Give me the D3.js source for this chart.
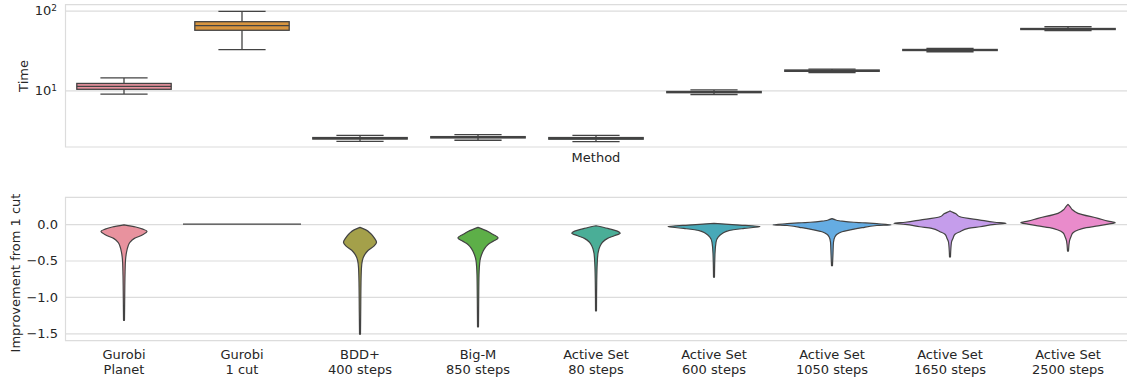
<!DOCTYPE html>
<html>
<head>
<meta charset="utf-8">
<script src="https://cdn.jsdelivr.net/npm/d3@7"></script>
<style>
  body { margin: 0; background: #fff; }
  text { font-family: "DejaVu Sans", sans-serif; fill: #262626; }
</style>
</head>
<body>
<div id="graf"></div>
<script>
// categories
const methods = [
  "Gurobi\nPlanet", "Gurobi\n1 cut", "BDD+\n400 steps", "Big-M\n850 steps",
  "Active Set\n80 steps", "Active Set\n600 steps", "Active Set\n1050 steps",
  "Active Set\n1650 steps", "Active Set\n2500 steps",
]
const colores = [
  "#e8929e", "#d8953f", "#a4a04a", "#5daf48", "#4aae97",
  "#48a9b8", "#65ace2", "#c59deb", "#e98bcb",
]

// top panel: time box stats
const timeLow  = [8.98, 32.4, 2.28, 2.36, 2.27, 8.86, 16.7, 30.5, 56.1]
const timeQ1   = [10.3, 56.8, 2.44, 2.52, 2.43, 9.33, 17.3, 31.6, 58.0]
const timeMed  = [11.2, 64.8, 2.50, 2.57, 2.49, 9.52, 17.6, 32.1, 58.9]
const timeQ3   = [12.2, 72.8, 2.55, 2.62, 2.55, 9.66, 18.0, 32.6, 59.8]
const timeHigh = [14.3, 98.3, 2.72, 2.78, 2.72, 10.1, 18.5, 33.7, 62.9]
const timeTicks = [10, 100]

// bottom panel: improvement density profiles [value, relative density 0-100]
// null = every value equal (drawn as a flat line)
const improvConst = [null, 0, null, null, null, null, null, null, null]
const improvProfiles = [
  [[-0.01,0],[-0.04,20],[-0.07,32],[-0.1,39],[-0.15,31],[-0.2,17],[-0.25,10],[-0.3,7],[-0.4,4],[-0.5,2.5],[-0.7,1.7],[-1.0,1.2],[-1.32,0.8]],
  null,
  [[-0.045,0],[-0.08,10],[-0.13,18],[-0.2,25],[-0.25,28],[-0.3,24],[-0.36,14],[-0.42,8],[-0.5,4],[-0.6,2.5],[-0.8,1.7],[-1.2,1.2],[-1.51,0.8]],
  [[-0.045,0],[-0.09,14],[-0.14,25],[-0.19,34],[-0.23,27],[-0.28,17],[-0.35,10],[-0.42,6],[-0.5,3.4],[-0.7,1.7],[-1.0,1.2],[-1.41,0.8]],
  [[-0.023,0],[-0.06,20],[-0.1,37],[-0.125,41],[-0.16,31],[-0.2,19],[-0.25,11],[-0.3,7],[-0.4,3.4],[-0.55,2],[-0.8,1.2],[-1.19,0.8]],
  [[0.01,0],[-0.01,37],[-0.035,78],[-0.06,51],[-0.09,25],[-0.13,14],[-0.18,7],[-0.25,3.4],[-0.4,1.7],[-0.73,0.8]],
  [[0.075,0],[0.06,5],[0.045,12],[0.04,17],[0.025,37],[0.018,51],[0.005,76],[-0.012,100],[-0.02,76],[-0.05,51],[-0.08,31],[-0.105,17],[-0.14,8.5],[-0.175,5],[-0.25,2.5],[-0.4,1.7],[-0.57,0.8]],
  [[0.18,0],[0.16,5],[0.14,10],[0.10,17],[0.055,51],[0.025,76],[0.01,95],[-0.005,76],[-0.037,51],[-0.06,31],[-0.105,17],[-0.14,8.5],[-0.197,5],[-0.25,2.5],[-0.45,0.8]],
  [[0.27,0],[0.24,3.4],[0.2,7],[0.147,17],[0.078,51],[0.04,68],[0.018,80],[0.0,68],[-0.024,51],[-0.05,31],[-0.082,17],[-0.12,8.5],[-0.174,5],[-0.23,2.5],[-0.37,0.8]],
]
const improvTicks = [0, -0.5, -1.0, -1.5]

const ancho = 1127
const alto = 381
const izq = 65
const der = 1127
const gridColor = "#dcdcdc"
const lineColor = "#434343"

const svg = d3.select("#graf")
  .append("svg")
  .attr("width", ancho)
  .attr("height", alto)

const x = d3.scaleBand().domain(methods).range([izq, der])
const bw = x.bandwidth()

const yTime = d3.scaleLog().domain([1.94, 119]).range([147, 4.7])
const yImp = d3.scaleLinear().domain([-1.6, 0.367]).range([340.7, 197.3])

const marco = (y, top, bottom) => {
  const g = svg.append("g")
  g.append("g")
    .attr("transform", `translate(${izq},0)`)
    .call(d3.axisLeft(y).tickValues(y === yTime ? timeTicks : improvTicks)
      .tickSize(-(der - izq)).tickFormat(""))
    .call((a) => a.select(".domain").remove())
    .selectAll("line")
    .attr("stroke", gridColor)
    .attr("stroke-width", 1.2)
  g.append("path")
    .attr("d", `M${der},${top}H${izq + 0.5}V${bottom}H${der}`)
    .attr("fill", "none")
    .attr("stroke", gridColor)
    .attr("stroke-width", 1.2)
  return g
}

// ---- top panel
marco(yTime, 4.7, 147)

const ejeTime = svg.append("g")
  .attr("transform", `translate(${izq},0)`)
  .call(d3.axisLeft(yTime).tickValues(timeTicks).tickSize(0).tickPadding(8))
ejeTime.select(".domain").remove()
ejeTime.selectAll(".tick text")
  .attr("font-size", 13)
  .attr("font-family", "DejaVu Sans")
  .attr("fill", "#262626")
  .each(function (d) {
    const t = d3.select(this).text(null)
    t.append("tspan").text("10")
    t.append("tspan").attr("dy", "-0.45em").attr("font-size", 9)
      .text(Math.round(Math.log10(d)))
  })

const cajas = svg.append("g")
methods.forEach((m, i) => {
  const cx = x(m) + bw / 2
  const bx = bw * 0.8
  const cap = bx / 2
  const g = cajas.append("g")
    .attr("stroke", lineColor)
    .attr("stroke-width", 1.3)
  g.append("line")
    .attr("x1", cx).attr("x2", cx)
    .attr("y1", yTime(timeHigh[i])).attr("y2", yTime(timeQ3[i]))
  g.append("line")
    .attr("x1", cx).attr("x2", cx)
    .attr("y1", yTime(timeQ1[i])).attr("y2", yTime(timeLow[i]))
  g.append("rect")
    .attr("x", cx - bx / 2)
    .attr("width", bx)
    .attr("y", yTime(timeQ3[i]))
    .attr("height", Math.max(0.5, yTime(timeQ1[i]) - yTime(timeQ3[i])))
    .attr("fill", colores[i])
  g.append("line")
    .attr("x1", cx - bx / 2).attr("x2", cx + bx / 2)
    .attr("y1", yTime(timeMed[i])).attr("y2", yTime(timeMed[i]))
  ;[timeLow[i], timeHigh[i]].forEach((v) => {
    g.append("line")
      .attr("x1", cx - cap / 2).attr("x2", cx + cap / 2)
      .attr("y1", yTime(v)).attr("y2", yTime(v))
  })
})

svg.append("text")
  .attr("x", (izq + der) / 2)
  .attr("y", 161.5)
  .attr("text-anchor", "middle")
  .attr("font-size", 13)
  .text("Method")

svg.append("text")
  .attr("transform", "translate(27.5,76) rotate(-90)")
  .attr("text-anchor", "middle")
  .attr("font-size", 13)
  .text("Time")

// ---- bottom panel
marco(yImp, 197.3, 340.7)

const ejeImp = svg.append("g")
  .attr("transform", `translate(${izq},0)`)
  .call(d3.axisLeft(yImp).tickValues(improvTicks).tickSize(0).tickPadding(7)
    .tickFormat(d3.format(".1f")))
ejeImp.select(".domain").remove()
ejeImp.selectAll(".tick text")
  .attr("font-size", 13)
  .attr("font-family", "DejaVu Sans")
  .attr("fill", "#262626")

const ancho2 = d3.scaleLinear().domain([0, 100]).range([0, bw / 2])

const violines = svg.append("g")
methods.forEach((m, i) => {
  const cx = x(m) + bw / 2
  if (improvProfiles[i] === null) {
    violines.append("line")
      .attr("x1", cx - bw / 2).attr("x2", cx + bw / 2)
      .attr("y1", yImp(improvConst[i])).attr("y2", yImp(improvConst[i]))
      .attr("stroke", lineColor)
      .attr("stroke-width", 1.3)
    return
  }
  const area = d3.area()
    .curve(d3.curveMonotoneY)
    .y((d) => yImp(d[0]))
    .x0((d) => cx - ancho2(d[1]))
    .x1((d) => cx + ancho2(d[1]))
  violines.append("path")
    .attr("d", area(improvProfiles[i]))
    .attr("fill", colores[i])
    .attr("stroke", lineColor)
    .attr("stroke-width", 1.2)
    .attr("stroke-linejoin", "round")
})

// category labels
const etiquetas = svg.append("g")
methods.forEach((m) => {
  const t = etiquetas.append("text")
    .attr("x", x(m) + bw / 2)
    .attr("y", 358.5)
    .attr("text-anchor", "middle")
    .attr("font-size", 13)
  m.split("\n").forEach((linea, k) => {
    t.append("tspan")
      .attr("x", x(m) + bw / 2)
      .attr("dy", k === 0 ? 0 : 15)
      .text(linea)
  })
})

svg.append("text")
  .attr("transform", "translate(19.5,273) rotate(-90)")
  .attr("text-anchor", "middle")
  .attr("font-size", 13)
  .text("Improvement from 1 cut")
</script>
</body>
</html>
